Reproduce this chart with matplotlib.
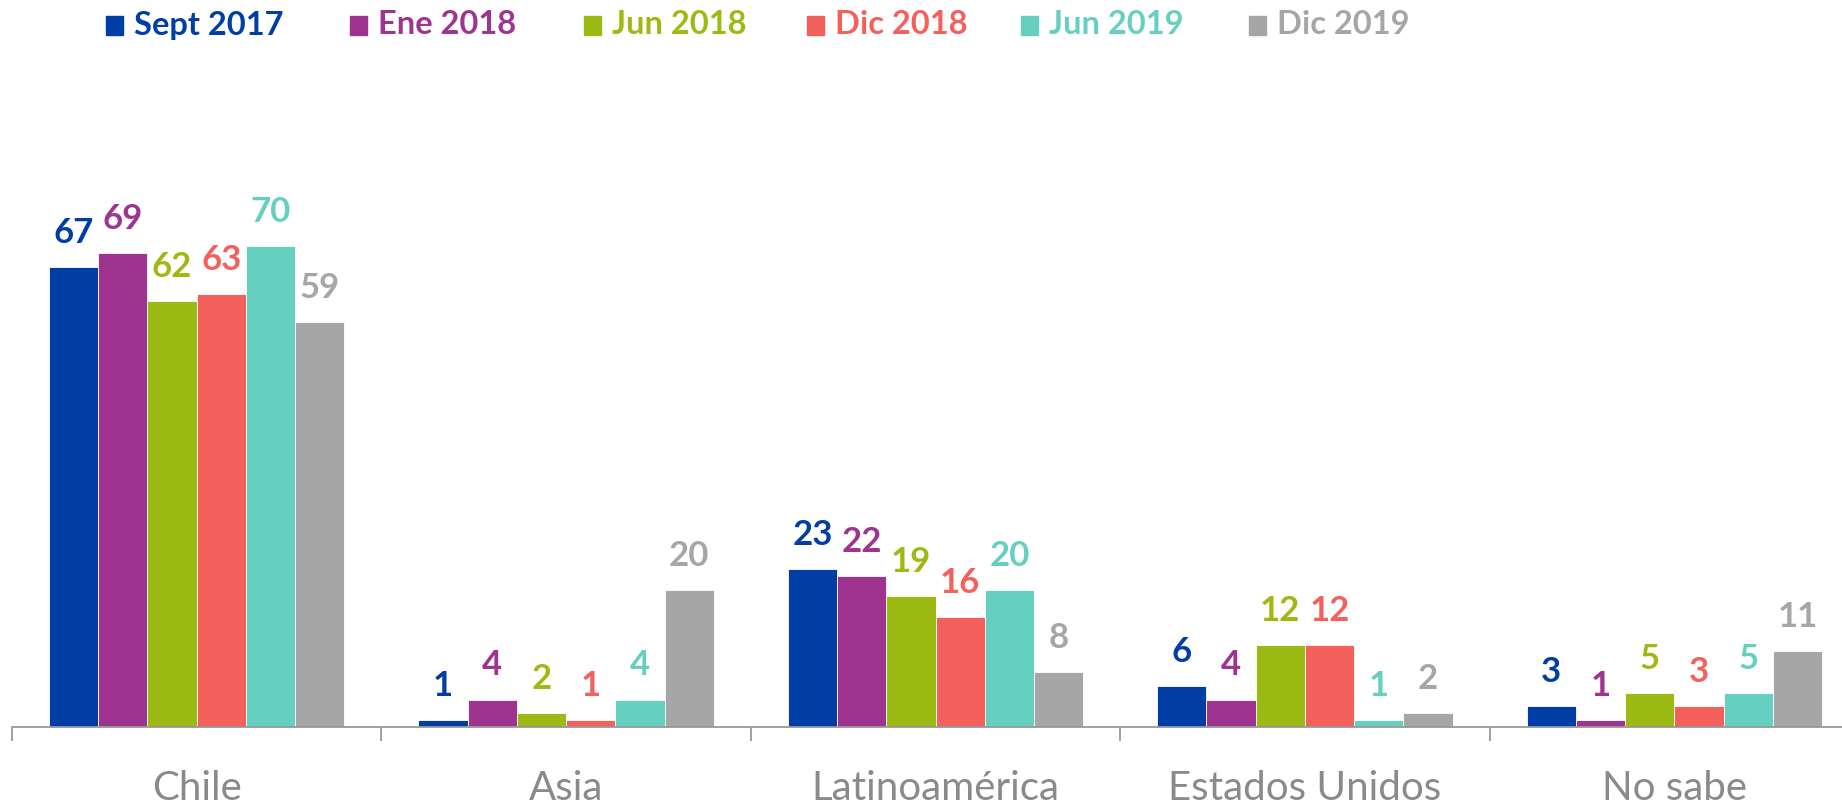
import matplotlib
matplotlib.use("Agg")
import matplotlib.pyplot as plt
from matplotlib.patches import Rectangle
import numpy as np

categories = ["Chile", "Asia", "Latinoamérica", "Estados Unidos", "No sabe"]
series = ["Sept 2017", "Ene 2018", "Jun 2018", "Dic 2018", "Jun 2019", "Dic 2019"]
values = {
    "Sept 2017": [67, 1, 23, 6, 3],
    "Ene 2018": [69, 4, 22, 4, 1],
    "Jun 2018": [62, 2, 19, 12, 5],
    "Dic 2018": [63, 1, 16, 12, 3],
    "Jun 2019": [70, 4, 20, 1, 5],
    "Dic 2019": [59, 20, 8, 2, 11],
}
colors = ["#003DA5", "#9E3490", "#9BBB14", "#F4605B", "#66D0C0", "#A6A6A6"]

W, H = 1842, 811
fig = plt.figure(figsize=(W / 100, H / 100), dpi=100)
ax = fig.add_axes([12 / W, (H - 727) / H, 1847 / W, 549.6 / H])
ax.set_xlim(-0.5, len(categories) - 0.5)
ax.set_ylim(0, 80)

font = "Lato"
n = len(series)
bw = 0.8 / n
x = np.arange(len(categories))
for i, (s, c) in enumerate(zip(series, colors)):
    xs = x - 0.4 + bw * (i + 0.5)
    ax.bar(xs, values[s], width=bw, color=c, edgecolor="white", linewidth=0.6)
    for xi, v in zip(xs, values[s]):
        ax.annotate(str(v), (xi, v), xytext=(0, 13), textcoords="offset points",
                    ha="center", va="bottom", fontsize=25, fontweight="bold",
                    color=c, family=font)

for sp in ["top", "left", "right"]:
    ax.spines[sp].set_visible(False)
ax.spines["bottom"].set_color("#999999")
ax.spines["bottom"].set_linewidth(1.3)
ax.set_yticks([])
ax.set_xticks(np.arange(-0.5, len(categories), 1.0))
ax.set_xticklabels([])
ax.tick_params(axis="x", length=10, width=1.3, color="#999999")
ax.set_xticks(x, minor=True)
ax.set_xticklabels(categories, minor=True)
ax.tick_params(axis="x", which="minor", length=0, pad=31, labelsize=29,
               labelcolor="#8A8A8A")
for lab in ax.get_xticklabels(minor=True):
    lab.set_family(font)
    lab.set_fontweight("normal")

leg_x = [106, 350, 584, 807, 1021, 1249]
for s, c, lx in zip(series, colors, leg_x):
    fig.patches.append(Rectangle((lx / W, (H - 35) / H), 17 / W, 19 / H,
                                 transform=fig.transFigure, color=c))
    fig.text((lx + 28) / W, (H - 25) / H, s, ha="left", va="center",
             fontsize=23.5, fontweight="bold", color=c, family=font)

fig.savefig("out.png", dpi=100)
